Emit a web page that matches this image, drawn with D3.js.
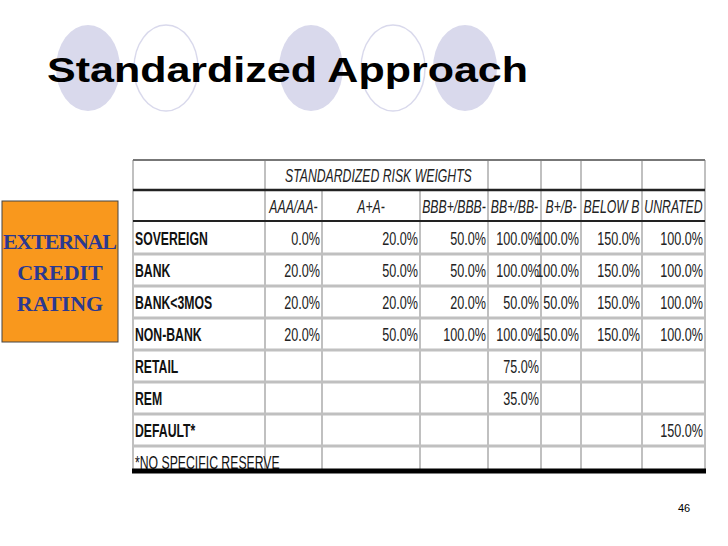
<!DOCTYPE html><html><head><meta charset="utf-8">
<script src="https://cdn.jsdelivr.net/npm/d3@7"></script>
<style>body{margin:0;background:#fff}</style></head><body>
<script>
const categories=["SOVEREIGN","BANK","BANK<3MOS","NON-BANK","RETAIL","REM","DEFAULT*","*NO SPECIFIC RESERVE"];
const ratings=["AAA/AA-","A+A-","BBB+/BBB-","BB+/BB-","B+/B-","BELOW B","UNRATED"];
const values=[
 [0,20,50,100,100,150,100],
 [20,50,50,100,100,150,100],
 [20,20,20,50,50,150,100],
 [20,50,100,100,150,150,100],
 [null,null,null,75,null,null,null],
 [null,null,null,35,null,null,null],
 [null,null,null,null,null,null,150],
 [null,null,null,null,null,null,null]];
const colEdges=[133,265,322,420,488,541,581,642,705];
const W=728,H=546;
const svg=d3.select("body").append("svg").attr("width",W).attr("height",H);
function narrow(sel,f){sel.each(function(){const w=this.getComputedTextLength();
 d3.select(this).attr("textLength",w*f).attr("lengthAdjust","spacingAndGlyphs");});return sel;}
const circles=[[88,true],[166,false],[311,true],[393,false],[465,true]];
circles.forEach(([cx,f])=>svg.append("ellipse").attr("cx",cx).attr("cy",68).attr("rx",32).attr("ry",43)
 .attr("fill",f?"#d9d9ec":"none").attr("stroke",f?"none":"#d9d9ec").attr("stroke-width",1.5));
svg.append("text").attr("x",47).attr("y",82).attr("font-family","Liberation Sans, Arial").attr("font-weight","bold")
 .attr("font-size",35).attr("textLength",481).attr("lengthAdjust","spacingAndGlyphs").text("Standardized Approach");
svg.append("rect").attr("x",2).attr("y",201).attr("width",116).attr("height",141).attr("fill","#f9981d").attr("stroke","#444").attr("stroke-width",1);
[["EXTERNAL",249],["CREDIT",280],["RATING",311]].forEach(([t,y])=>svg.append("text").attr("x",60).attr("y",y)
 .attr("text-anchor","middle").attr("font-family","Liberation Serif, Times New Roman").attr("font-weight","bold")
 .attr("font-size",22).attr("fill","#2b3990").attr("textLength",t==="EXTERNAL"?114:null).text(t));
const rowTop=[222,254,286,318,350,382,414,446,470];
const font="Liberation Sans, Arial";
const g=svg.append("g");
rowTop.slice(1,8).forEach(y=>g.append("line").attr("x1",133).attr("x2",705).attr("y1",y).attr("y2",y).attr("stroke","#c0c0c0").attr("stroke-width",3));
colEdges.forEach((x,i)=>{
 g.append("line").attr("x1",x).attr("x2",x).attr("y1",(i===2||i===3)?190:160).attr("y2",470).attr("stroke","#c0c0c0").attr("stroke-width",2);
});
g.append("line").attr("x1",133).attr("x2",705).attr("y1",160).attr("y2",160).attr("stroke","#777").attr("stroke-width",2);
g.append("line").attr("x1",133).attr("x2",705).attr("y1",190).attr("y2",190).attr("stroke","#222").attr("stroke-width",2.5);
g.append("line").attr("x1",133).attr("x2",705).attr("y1",221).attr("y2",221).attr("stroke","#222").attr("stroke-width",2);
g.append("line").attr("x1",132).attr("x2",706).attr("y1",471).attr("y2",471).attr("stroke","#000").attr("stroke-width",5);
narrow(g.append("text").attr("x",285).attr("y",182).attr("font-family",font).attr("font-style","italic")
 .attr("font-size",18).attr("fill","#222").text("STANDARDIZED RISK WEIGHTS"),0.68);
ratings.forEach((r,i)=>narrow(g.append("text").attr("x",(colEdges[i+1]+colEdges[i+2])/2).attr("y",213).attr("text-anchor","middle")
 .attr("font-family",font).attr("font-style","italic").attr("font-size",18).attr("fill","#222").text(r),0.68));
categories.forEach((c,j)=>{
 const yb=rowTop[j]+23;
 narrow(g.append("text").attr("x",135).attr("y",yb).attr("font-family",font).attr("font-weight",j<7?"bold":"normal")
  .attr("font-size",18).attr("fill","#111").text(c),0.68);
 values[j].forEach((v,i)=>{ if(v==null)return;
  const t=g.append("text").attr("y",yb).attr("font-family",font)
   .attr("font-size",18).attr("fill","#222").text(d3.format(".1f")(v)+"%");
  narrow(t,0.7); const w=+t.attr("textLength"); t.attr("x",colEdges[i+2]-2-w);});
});
svg.append("text").attr("x",684).attr("y",512).attr("text-anchor","middle").attr("font-family","Liberation Sans, Arial").attr("font-size",11).text("46");
</script></body></html>
